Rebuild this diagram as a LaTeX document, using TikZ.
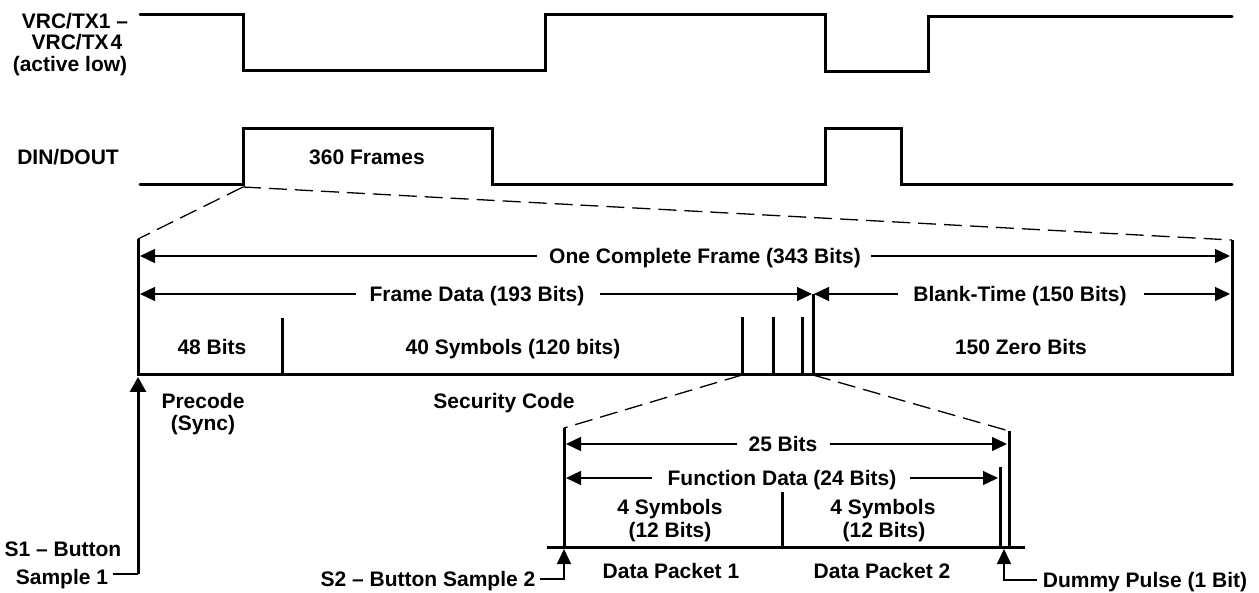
\documentclass[tikz,border=0pt]{standalone}
\usepackage{fontspec}
\setmainfont{Liberation Sans}
\usetikzlibrary{arrows.meta}
\begin{document}
\begin{tikzpicture}[x=1pt,y=-1pt,
  every node/.style={font=\fontsize{21}{23}\selectfont\bfseries, inner sep=0pt, text height=15pt, text depth=0pt},
  wave/.style={line width=3pt, line cap=round, line join=miter},
  bar/.style={line width=3pt},
  dim/.style={line width=1.3pt},
  dimarrow/.style={line width=1.3pt, -{Triangle[length=15pt,width=14pt]}},
  bigarrow/.style={line width=3pt, -{Triangle[length=15pt,width=16pt]}},
  zoomline/.style={line width=1.3pt, dash pattern=on 18pt off 8pt},
]
\useasboundingbox (0,0) rectangle (1259,593);

% signal labels
\node (vrc1) at (75,21.5) {VRC/TX1 –};
\node (vrc2) at (77,42) {VRC/TX\hspace{2pt}4};
\node (vrc3) at (70,64) {(active low)};
\node (din) at (68,157) {DIN/DOUT};
\node (frames) at (367,157) {360 Frames};

% waveforms
\draw[wave] (140,15) -- (243,15) -- (243,71) -- (545,71) -- (545,15) -- (825,15) -- (825,72) -- (928,72) -- (928,17) -- (1232,17);
\draw[wave] (140,185) -- (243,185) -- (243,129) -- (492,129) -- (492,185) -- (825,185) -- (825,129) -- (901,129) -- (901,185) -- (1232,185);

% frame
\coordinate (dinrise) at (243,187);
\coordinate (fTL) at (138,239);
\coordinate (fTR) at (1232,240);
\coordinate (fBL) at (138,375);
\coordinate (fBR) at (1232,375);
\draw[zoomline] (dinrise) -- (fTL);
\draw[zoomline] (dinrise) -- (fTR);
\draw[bar] (fTL) -- (fBL) -- (fBR) -- (fTR);

\coordinate (t1) at (282,375);
\coordinate (t2) at (742,375);
\coordinate (t3) at (773,375);
\coordinate (t4) at (802,375);
\coordinate (t5) at (813,375);
\draw[bar] (t1) -- (282,318);
\draw[bar] (t2) -- (742,317);
\draw[bar] (t3) -- (773,317);
\draw[bar] (t4) -- (802,317);
\draw[bar] (t5) -- (813,294);

\node (ocf) at (705,256) {One Complete Frame (343 Bits)};
\draw[dimarrow] ([xshift=-12pt]ocf.west) -- (140,256);
\draw[dimarrow] ([xshift=10pt]ocf.east) -- (1230,256);
\node (fd) at (477,294) {Frame Data (193 Bits)};
\draw[dimarrow] ([xshift=-13pt]fd.west) -- (140,294);
\draw[dimarrow] ([xshift=15pt]fd.east) -- (812,294);
\node (bt) at (1020,294) {Blank-Time (150 Bits)};
\draw[dimarrow] ([xshift=-15pt]bt.west) -- (814,294);
\draw[dimarrow] ([xshift=17pt]bt.east) -- (1230,294);

\node (b48) at (212,347) {48 Bits};
\node (sym40) at (513,347) {40 Symbols (120 bits)};
\node (zero) at (1021,347) {150 Zero Bits};
\node (pre) at (203,401) {Precode};
\node (sync) at (203,423) {(Sync)};
\node (sec) at (504,401) {Security Code};

% S1
\node (s1a) at (63,549) {S1 – Button};
\node (s1b) at (62,577) {Sample 1};
\coordinate (s1end) at (113,574);
\coordinate (s1c) at (138,574);
\draw[dim] (s1end) -- (s1c);
\draw[bigarrow] (s1c) -- (138,377);

% packet detail
\coordinate (pTL) at (564,428);
\coordinate (pTR) at (1009,431);
\coordinate (pBL) at (564,547);
\coordinate (pBR) at (1009,547);
\draw[zoomline] (t2) -- (pTL);
\draw[zoomline] (t5) -- (pTR);
\draw[bar] (547,547) -- (1025,547);
\draw[bar] (pTL) -- (pBL);
\draw[bar] (pTR) -- (pBR);
\draw[bar] (782,547) -- (782,492);
\draw[bar] (1000,547) -- (1000,467);

\node (b25) at (783,444) {25 Bits};
\draw[dimarrow] ([xshift=-11pt]b25.west) -- (566,444);
\draw[dimarrow] ([xshift=12pt]b25.east) -- (1007,444);
\node (fn) at (782,478) {Function Data (24 Bits)};
\draw[dimarrow] ([xshift=-15pt]fn.west) -- (566,478);
\draw[dimarrow] ([xshift=13pt]fn.east) -- (998,478);

\node (s4a) at (670,507) {4 Symbols};
\node (s4a2) at (670,530) {(12 Bits)};
\node (s4b) at (883,507) {4 Symbols};
\node (s4b2) at (884,530) {(12 Bits)};
\node (dp1) at (671,571) {Data Packet 1};
\node (dp2) at (882,571) {Data Packet 2};

\node (s2) at (428,579) {S2 – Button Sample 2};
\draw[dimarrow] ([xshift=4pt]s2.east) -| (564,549);
\node (dummy) at (1145,580) {Dummy Pulse (1 Bit)};
\draw[dimarrow] ([xshift=-6pt]dummy.west) -| (1004,549);
\end{tikzpicture}
\end{document}
